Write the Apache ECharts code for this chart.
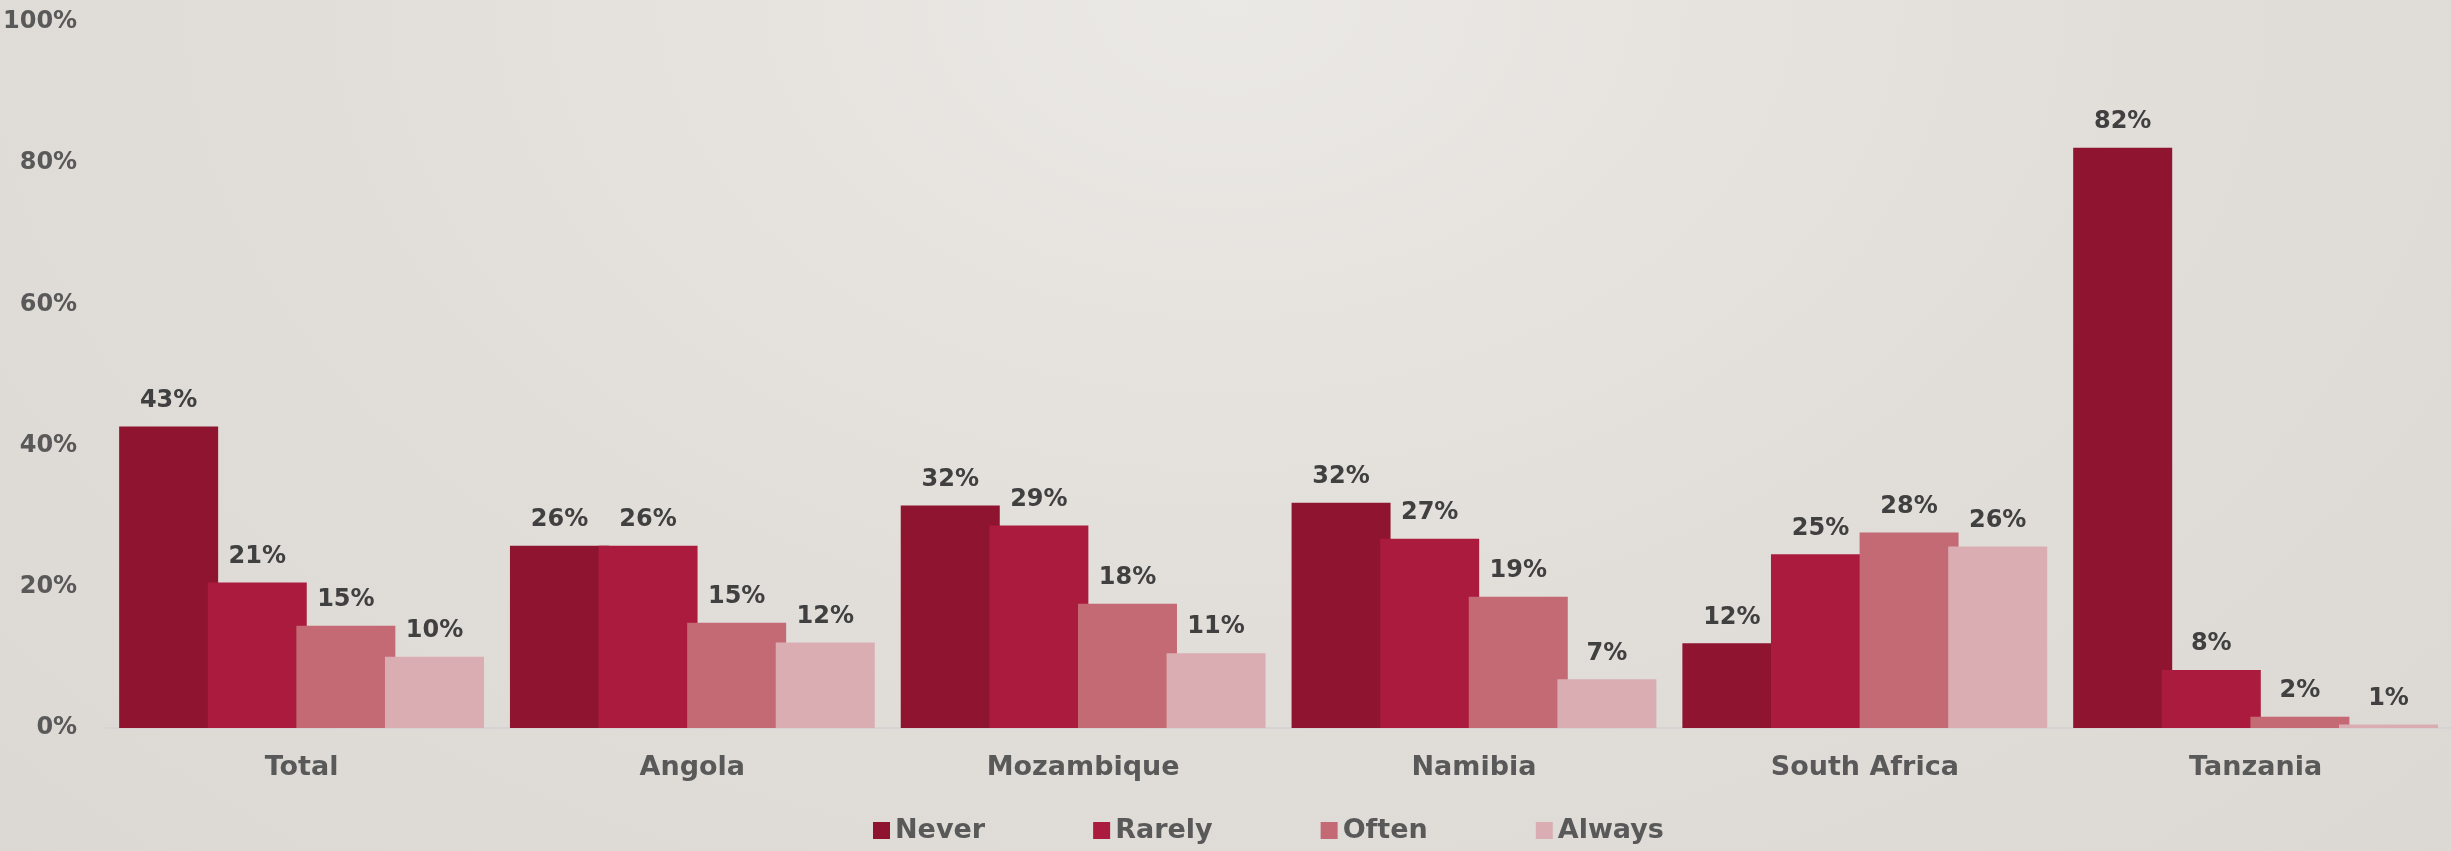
<!DOCTYPE html>
<html>
<head>
<meta charset="utf-8">
<script src="https://cdn.jsdelivr.net/npm/echarts@6/dist/echarts.min.js"></script>
<style>
    html, body { margin: 0; padding: 0; }
    body {
        width: 2451px; height: 851px; overflow: hidden;
        background: radial-gradient(ellipse at 50% 0%, #ebe9e5 0%, #e1ded9 55%, #dcd9d4 100%);
    }
    #chart { width: 2451px; height: 851px; }
</style>
</head>
<body>
<div id="chart"></div>
<script>
// categories and series values (percent)
var countries = ['Total', 'Angola', 'Mozambique', 'Namibia', 'South Africa', 'Tanzania'];
var never  = [42.7, 25.8, 31.5, 31.9, 12.0, 82.2];
var rarely = [20.6, 25.8, 28.7, 26.8, 24.6, 8.2];
var often  = [14.5, 14.9, 17.6, 18.6, 27.7, 1.6];
var always = [10.1, 12.1, 10.6, 6.9, 25.7, 0.5];
var yTicks = [0, 20, 40, 60, 80, 100];

var colors = ['#8e1430', '#aa1b3e', '#c46a74', '#daadb3'];
var font = '"DejaVu Sans", sans-serif';

function makeSeries(name, data, color) {
    return {
        name: name,
        type: 'bar',
        data: data,
        barWidth: 99,
        barGap: '-10.5%',
        itemStyle: { color: color },
        label: {
            show: true,
            position: 'top',
            distance: 14,
            color: '#404040',
            fontFamily: font,
            fontWeight: 'bold',
            fontSize: 24,
            formatter: function (p) { return Math.round(p.value) + '%'; }
        }
    };
}

var myChart = echarts.init(document.getElementById('chart'));
myChart.setOption({
    animation: false,
    textStyle: { fontFamily: font },
    grid: {
        left: 105,
        right: -16,
        top: 22,
        bottom: 123,
        containLabel: false
    },
    legend: {
        top: 812,
        left: 868,
        itemGap: 108,
        itemWidth: 17,
        itemHeight: 17,
        icon: 'rect',
        textStyle: {
            color: '#595959',
            fontFamily: font,
            fontWeight: 'bold',
            fontSize: 27
        },
        data: ['Never', 'Rarely', 'Often', 'Always']
    },
    xAxis: {
        type: 'category',
        data: countries,
        axisTick: { show: false },
        axisLine: { lineStyle: { color: '#d4d4d4', width: 2 } },
        axisLabel: {
            color: '#595959',
            fontFamily: font,
            fontWeight: 'bold',
            fontSize: 27,
            margin: 26
        }
    },
    yAxis: {
        type: 'value',
        min: yTicks[0],
        max: yTicks[yTicks.length - 1],
        interval: 20,
        splitLine: { show: false },
        axisLine: { show: false },
        axisTick: { show: false },
        axisLabel: {
            color: '#595959',
            fontFamily: font,
            fontWeight: 'bold',
            fontSize: 24,
            margin: 29,
            formatter: '{value}%'
        }
    },
    series: [
        makeSeries('Never', never, colors[0]),
        makeSeries('Rarely', rarely, colors[1]),
        makeSeries('Often', often, colors[2]),
        makeSeries('Always', always, colors[3])
    ]
});
</script>
</body>
</html>
